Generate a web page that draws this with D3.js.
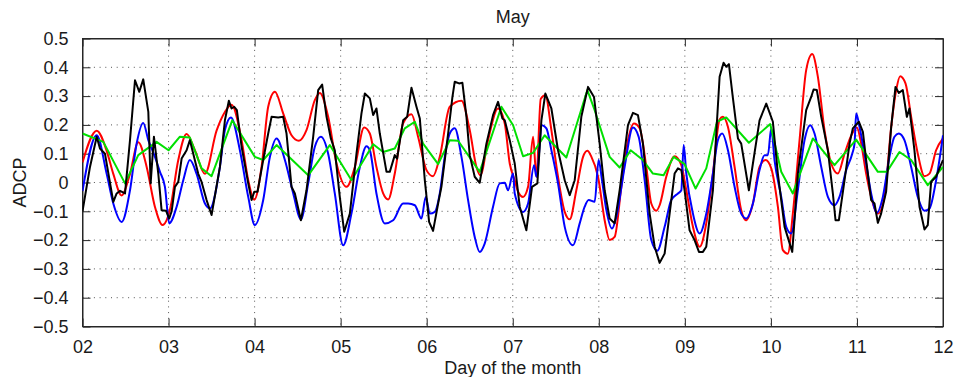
<!DOCTYPE html>
<html>
<head>
<meta charset="utf-8">
<script src="https://cdn.jsdelivr.net/npm/d3@7"></script>
<style>
  html, body { margin: 0; padding: 0; background: #fff; }
  svg { display: block; font-family: "Liberation Sans", Arial, Helvetica, sans-serif; }
</style>
</head>
<body>
<div id="chart"></div>
<script>
// values: [day of month, ADCP]
const redSeries = [[2.0,0.07],[2.165,0.18],[2.281,0.11],[2.358,0.03],[2.455,-0.045],[2.552,0.03],[2.648,0.14],[2.745,0.055],[2.842,-0.085],[2.931,-0.148],[3.016,-0.095],[3.113,0.078],[3.21,0.168],[3.306,0.112],[3.423,0.03],[3.558,0.18],[3.655,0.245],[3.732,0.27],[3.849,0.147],[3.926,0.008],[3.996,-0.06],[4.081,0.054],[4.158,0.263],[4.236,0.315],[4.332,0.24],[4.429,0.164],[4.514,0.145],[4.603,0.182],[4.7,0.286],[4.758,0.311],[4.855,0.228],[4.952,0.066],[5.068,-0.015],[5.165,0.054],[5.273,0.191],[5.339,0.17],[5.416,0.054],[5.494,-0.038],[5.552,-0.059],[5.629,0.031],[5.726,0.205],[5.823,0.237],[5.9,0.159],[5.997,0.043],[6.074,0.022],[6.152,0.089],[6.268,0.263],[6.404,0.284],[6.5,0.182],[6.578,0.054],[6.624,0.025],[6.713,0.147],[6.829,0.257],[6.907,0.205],[6.965,0.066],[7.023,0.008],[7.062,-0.032],[7.12,-0.05],[7.178,-0.015],[7.236,0.159],[7.275,0.02],[7.325,0.29],[7.379,0.303],[7.449,0.182],[7.526,0.02],[7.604,-0.102],[7.662,-0.128],[7.739,-0.027],[7.817,0.089],[7.867,0.11],[7.913,0.09],[7.991,0.02],[8.068,-0.131],[8.126,-0.2],[8.184,-0.189],[8.262,-0.015],[8.339,0.147],[8.409,0.205],[8.475,0.188],[8.552,0.054],[8.61,-0.073],[8.668,-0.098],[8.707,-0.079],[8.784,0.02],[8.881,0.091],[8.959,0.06],[9.017,-0.027],[9.094,-0.154],[9.172,-0.223],[9.249,-0.142],[9.326,0.031],[9.404,0.219],[9.442,0.228],[9.501,0.193],[9.578,0.054],[9.655,-0.096],[9.713,-0.131],[9.791,-0.073],[9.868,0.054],[9.938,0.078],[10.004,0.049],[10.081,-0.084],[10.139,-0.235],[10.197,-0.247],[10.255,-0.108],[10.333,0.147],[10.41,0.39],[10.48,0.446],[10.546,0.367],[10.623,0.182],[10.701,0.066],[10.778,0.031],[10.856,0.1],[10.945,0.17],[10.999,0.191],[11.049,0.135],[11.107,0.031],[11.165,-0.05],[11.243,-0.108],[11.32,-0.05],[11.398,0.193],[11.456,0.321],[11.502,0.369],[11.564,0.344],[11.63,0.228],[11.707,0.1],[11.785,0.022],[11.843,0.031],[11.92,0.112],[12.0,0.153]];

const blueSeries = [[2.0,-0.03],[2.165,0.164],[2.281,0.03],[2.358,-0.073],[2.455,-0.137],[2.552,-0.027],[2.629,0.135],[2.706,0.207],[2.765,0.147],[2.842,0.089],[2.9,0.037],[2.958,-0.015],[3.008,-0.142],[3.094,-0.084],[3.171,0.008],[3.248,0.078],[3.326,0.03],[3.423,-0.073],[3.481,-0.09],[3.597,0.054],[3.655,0.182],[3.725,0.226],[3.829,0.112],[3.926,-0.05],[4.003,-0.148],[4.1,-0.061],[4.178,0.089],[4.255,0.153],[4.352,0.078],[4.449,-0.038],[4.538,-0.128],[4.623,-0.003],[4.7,0.124],[4.77,0.159],[4.855,0.1],[4.932,-0.038],[5.029,-0.218],[5.126,-0.107],[5.223,0.054],[5.3,0.126],[5.339,0.112],[5.416,-0.038],[5.513,-0.142],[5.61,-0.131],[5.726,-0.073],[5.784,-0.073],[5.862,-0.079],[5.939,-0.125],[5.989,-0.05],[6.036,-0.108],[6.094,-0.102],[6.152,-0.038],[6.21,0.089],[6.268,0.17],[6.326,0.188],[6.404,0.089],[6.481,-0.061],[6.558,-0.189],[6.616,-0.241],[6.674,-0.212],[6.771,-0.084],[6.849,-0.003],[6.907,-0.001],[6.945,-0.027],[7.004,0.031],[7.023,-0.038],[7.12,-0.102],[7.178,-0.073],[7.248,0.06],[7.275,0.02],[7.34,0.199],[7.391,0.188],[7.449,0.112],[7.526,-0.003],[7.604,-0.154],[7.7,-0.218],[7.778,-0.142],[7.836,-0.084],[7.882,-0.061],[7.952,-0.067],[7.998,0.078],[8.037,0.008],[8.088,-0.096],[8.153,-0.16],[8.204,-0.119],[8.3,0.054],[8.397,0.191],[8.463,0.159],[8.533,0.008],[8.61,-0.2],[8.68,-0.237],[8.765,-0.154],[8.842,-0.061],[8.92,-0.038],[8.959,-0.027],[8.986,0.13],[9.017,0.031],[9.094,-0.108],[9.172,-0.177],[9.249,-0.108],[9.326,0.031],[9.384,0.147],[9.435,0.17],[9.501,0.112],[9.578,-0.015],[9.655,-0.108],[9.713,-0.125],[9.791,-0.073],[9.868,0.043],[9.926,0.095],[9.965,0.095],[10.004,0.188],[10.042,0.078],[10.12,-0.05],[10.178,-0.154],[10.236,-0.177],[10.313,-0.027],[10.391,0.147],[10.457,0.199],[10.507,0.17],[10.585,0.054],[10.662,-0.05],[10.739,-0.079],[10.797,-0.05],[10.875,0.043],[10.945,0.1],[10.972,0.135],[10.991,0.24],[11.03,0.193],[11.107,0.066],[11.165,-0.038],[11.231,-0.105],[11.301,-0.05],[11.378,0.089],[11.436,0.159],[11.486,0.17],[11.552,0.147],[11.63,0.054],[11.707,-0.05],[11.785,-0.098],[11.843,-0.09],[11.92,0.008],[12.0,0.164]];

const greenSeries = [[2.0,0.17],[2.242,0.141],[2.494,-0.003],[2.648,0.095],[2.861,0.141],[3.0,0.112],[3.132,0.159],[3.248,0.156],[3.384,0.049],[3.5,0.022],[3.74,0.216],[4.003,0.089],[4.1,0.078],[4.255,0.13],[4.623,0.025],[4.874,0.13],[5.126,0.008],[5.378,0.133],[5.494,0.106],[5.629,0.118],[5.745,0.188],[5.862,0.211],[5.958,0.135],[6.133,0.064],[6.268,0.147],[6.365,0.145],[6.616,0.037],[6.868,0.263],[7.004,0.199],[7.12,0.091],[7.236,0.103],[7.371,0.164],[7.623,0.087],[7.867,0.321],[7.952,0.251],[8.126,0.089],[8.242,0.052],[8.37,0.112],[8.513,0.078],[8.629,0.031],[8.753,0.025],[8.87,0.089],[8.997,0.064],[9.125,-0.021],[9.249,0.049],[9.373,0.211],[9.481,0.226],[9.744,0.138],[9.992,0.203],[10.12,0.037],[10.255,-0.038],[10.488,0.153],[10.739,0.06],[10.991,0.149],[11.243,0.037],[11.347,0.037],[11.494,0.106],[11.63,0.078],[11.823,-0.009],[12.0,0.054]];

const blackSeries = [[2.0,-0.1],[2.087,0.054],[2.165,0.159],[2.203,0.118],[2.261,0.1],[2.358,-0.067],[2.397,-0.038],[2.436,-0.029],[2.494,-0.038],[2.552,0.147],[2.61,0.355],[2.66,0.315],[2.706,0.358],[2.765,0.245],[2.792,-0.003],[2.83,0.159],[2.881,0.03],[2.919,-0.096],[2.97,-0.098],[3.008,-0.125],[3.036,-0.1],[3.074,-0.015],[3.113,0.002],[3.152,0.083],[3.21,0.112],[3.248,0.147],[3.345,0.03],[3.384,0.002],[3.442,-0.061],[3.5,-0.113],[3.597,0.054],[3.655,0.216],[3.701,0.284],[3.732,0.257],[3.763,0.263],[3.794,0.251],[3.849,0.124],[3.926,-0.003],[3.965,-0.061],[3.996,-0.032],[4.034,-0.032],[4.1,0.078],[4.158,0.17],[4.197,0.228],[4.274,0.226],[4.332,0.228],[4.371,0.17],[4.429,-0.015],[4.468,-0.038],[4.538,-0.131],[4.603,-0.027],[4.681,0.159],[4.739,0.321],[4.785,0.34],[4.836,0.228],[4.886,0.153],[4.932,0.112],[4.99,-0.05],[5.041,-0.171],[5.107,-0.108],[5.184,0.1],[5.242,0.24],[5.281,0.309],[5.339,0.292],[5.378,0.234],[5.416,0.257],[5.455,0.17],[5.533,0.037],[5.571,0.037],[5.629,0.095],[5.656,0.083],[5.726,0.216],[5.773,0.228],[5.823,0.329],[5.881,0.263],[5.92,0.222],[5.978,0.008],[6.028,-0.137],[6.074,-0.168],[6.133,-0.073],[6.171,-0.015],[6.249,0.17],[6.299,0.297],[6.326,0.35],[6.376,0.344],[6.415,0.346],[6.462,0.228],[6.5,0.095],[6.558,0.02],[6.616,-0.001],[6.694,0.135],[6.771,0.234],[6.829,0.28],[6.88,0.222],[6.907,0.216],[6.965,0.147],[7.023,0.066],[7.081,-0.084],[7.158,-0.166],[7.224,-0.015],[7.286,-0.003],[7.333,0.216],[7.379,0.309],[7.449,0.257],[7.526,0.112],[7.604,0.008],[7.662,-0.044],[7.72,0.008],[7.797,0.228],[7.875,0.332],[7.944,0.297],[8.01,0.135],[8.068,-0.027],[8.126,-0.125],[8.184,-0.142],[8.242,-0.027],[8.339,0.199],[8.397,0.242],[8.455,0.234],[8.513,0.135],[8.591,-0.108],[8.649,-0.223],[8.707,-0.279],[8.765,-0.247],[8.823,-0.108],[8.881,0.031],[8.92,0.049],[8.959,0.043],[8.997,-0.027],[9.055,-0.166],[9.113,-0.2],[9.164,-0.241],[9.21,-0.241],[9.249,-0.223],[9.326,-0.027],[9.404,0.367],[9.45,0.416],[9.481,0.402],[9.512,0.411],[9.559,0.292],[9.617,0.153],[9.655,0.135],[9.744,-0.027],[9.791,0.066],[9.868,0.216],[9.946,0.274],[10.023,0.211],[10.081,0.031],[10.159,-0.154],[10.248,-0.241],[10.313,0.031],[10.41,0.251],[10.468,0.297],[10.496,0.323],[10.534,0.321],[10.585,0.228],[10.662,0.112],[10.72,-0.038],[10.751,-0.131],[10.79,-0.131],[10.856,0.008],[10.914,0.135],[10.952,0.188],[11.022,0.211],[11.069,0.176],[11.107,0.078],[11.165,-0.061],[11.204,-0.073],[11.243,-0.14],[11.281,-0.108],[11.339,-0.032],[11.398,0.193],[11.448,0.332],[11.487,0.311],[11.533,0.321],[11.58,0.228],[11.61,0.257],[11.668,0.112],[11.727,-0.084],[11.785,-0.163],[11.823,-0.148],[11.862,0.002],[11.92,0.02],[11.959,0.049],[12.0,0.078]];

const dayTicks = [2, 3, 4, 5, 6, 7, 8, 9, 10, 11, 12];
const adcpTicks = [-0.5, -0.4, -0.3, -0.2, -0.1, 0, 0.1, 0.2, 0.3, 0.4, 0.5];

const width = 954;
const height = 377;
const margin = { top: 38.5, right: 11, bottom: 50.5, left: 82.5 };
const innerW = width - margin.left - margin.right;
const innerH = height - margin.top - margin.bottom;

const svg = d3.select('#chart')
  .append('svg')
  .attr('width', width)
  .attr('height', height);

const g = svg.append('g')
  .attr('transform', `translate(${margin.left},${margin.top})`);

const x = d3.scaleLinear().domain([2, 12]).range([0, innerW]);
const y = d3.scaleLinear().domain([-0.5, 0.5]).range([innerH, 0]);

// dotted grid
g.append('g')
  .selectAll('line')
  .data(dayTicks.slice(1, -1))
  .enter()
  .append('line')
  .attr('x1', d => x(d)).attr('x2', d => x(d))
  .attr('y1', 0).attr('y2', innerH)
  .attr('stroke', '#555')
  .attr('stroke-width', 1)
  .attr('stroke-dasharray', '1,4.7');

g.append('g')
  .selectAll('line')
  .data(adcpTicks.slice(1, -1))
  .enter()
  .append('line')
  .attr('x1', 0).attr('x2', innerW)
  .attr('y1', d => y(d)).attr('y2', d => y(d))
  .attr('stroke', '#555')
  .attr('stroke-width', 1)
  .attr('stroke-dasharray', '1,4.7');

// axes (ticks pointing in, like matlab)
const tickLen = 8;
const fmtY = d => d === 0 ? '0' : d3.format('.1f')(d);

g.append('g')
  .attr('transform', `translate(0,${innerH})`)
  .call(d3.axisBottom(x).tickValues(dayTicks).tickFormat(d3.format('02d')).tickSizeInner(-tickLen).tickSizeOuter(0).tickPadding(14));

g.append('g')
  .call(d3.axisTop(x).tickValues(dayTicks).tickFormat('').tickSizeInner(-tickLen).tickSizeOuter(0));

g.append('g')
  .call(d3.axisLeft(y).tickValues(adcpTicks).tickFormat(fmtY).tickSizeInner(-tickLen).tickSizeOuter(0).tickPadding(14));

g.append('g')
  .attr('transform', `translate(${innerW},0)`)
  .call(d3.axisRight(y).tickValues(adcpTicks).tickFormat('').tickSizeInner(-tickLen).tickSizeOuter(0));

g.selectAll('.domain').attr('stroke', '#262626').attr('stroke-width', 1);
g.selectAll('.tick line').attr('stroke', '#262626').attr('stroke-width', 1);
g.selectAll('.tick text')
  .attr('fill', '#1a1a1a')
  .style('font-size', '18px')
  .style('font-family', '"Liberation Sans", Arial, sans-serif');

// box
g.append('rect')
  .attr('width', innerW)
  .attr('height', innerH)
  .attr('fill', 'none')
  .attr('stroke', '#262626')
  .attr('stroke-width', 1);

g.append('clipPath')
  .attr('id', 'plot-clip')
  .append('rect')
  .attr('width', innerW)
  .attr('height', innerH);

const smooth = d3.line().x(d => x(d[0])).y(d => y(d[1])).curve(d3.curveMonotoneX);
const straight = d3.line().x(d => x(d[0])).y(d => y(d[1]));

const lines = [
  { data: redSeries, color: '#ff0000', gen: smooth },
  { data: blueSeries, color: '#0000ff', gen: smooth },
  { data: greenSeries, color: '#00e000', gen: straight },
  { data: blackSeries, color: '#000000', gen: straight }
];

const plot = g.append('g').attr('clip-path', 'url(#plot-clip)');
lines.forEach(s => {
  plot.append('path')
    .datum(s.data)
    .attr('fill', 'none')
    .attr('stroke', s.color)
    .attr('stroke-width', 2)
    .attr('stroke-linejoin', 'round')
    .attr('d', s.gen);
});

// labels
svg.append('text')
  .attr('x', margin.left + innerW / 2)
  .attr('y', 23)
  .attr('text-anchor', 'middle')
  .style('font-size', '18px')
  .attr('fill', '#1a1a1a')
  .text('May');

svg.append('text')
  .attr('x', margin.left + innerW / 2)
  .attr('y', 374)
  .attr('text-anchor', 'middle')
  .style('font-size', '18px')
  .attr('fill', '#1a1a1a')
  .text('Day of the month');

svg.append('text')
  .attr('transform', `translate(26,${margin.top + innerH / 2}) rotate(-90)`)
  .attr('text-anchor', 'middle')
  .style('font-size', '18px')
  .attr('fill', '#1a1a1a')
  .text('ADCP');
</script>
</body>
</html>
